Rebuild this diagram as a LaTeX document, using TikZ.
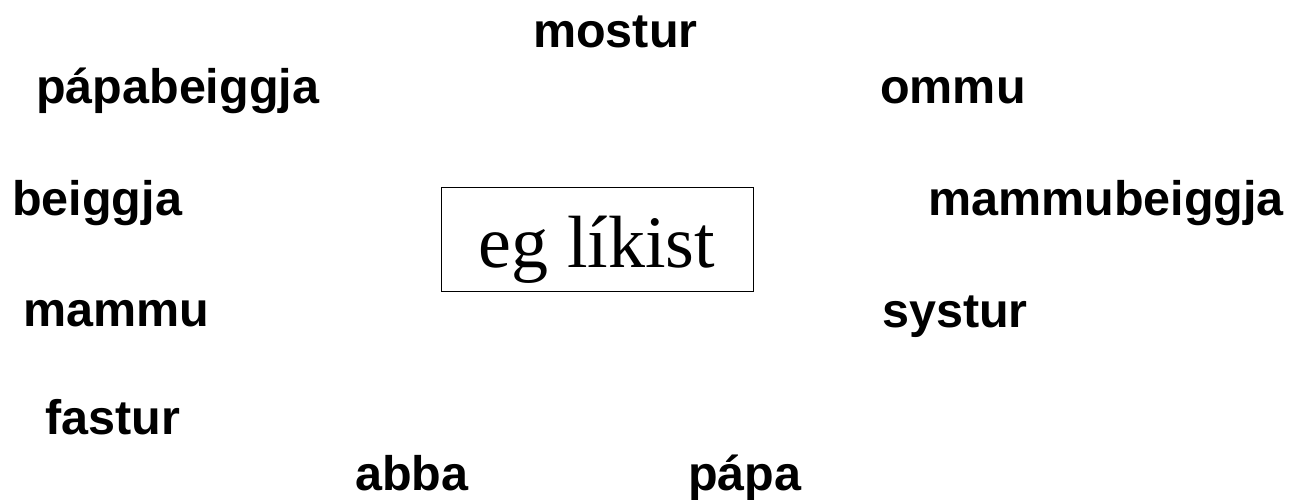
\documentclass[tikz,border=0pt]{standalone}
\usepackage{fontspec}
\setmainfont{Liberation Serif}
\setsansfont{Liberation Sans}
\usepackage{tikz}

\begin{document}
\begin{tikzpicture}[x=1pt,y=-1pt]
				
				\useasboundingbox (0,0) rectangle (1296,500);
				
				\tikzstyle{every node}=[inner sep=0pt, anchor=base west, font=\sffamily\bfseries\fontsize{48.5}{58}\selectfont]
				
				\node (mostur) at (533,48) {mostur};
				\node (papabeiggja) at (36,104) {pápabeiggja};
				\node (ommu) at (880,104) {ommu};
				\node (beiggja) at (12,215) {beiggja};
				\node (mammubeiggja) at (928,215) {mammubeiggja};
				\node (mammu) at (23,326) {mammu};
				\node (systur) at (882,327) {systur};
				\node (fastur) at (45,434) {fastur};
				\node (abba) at (355,490) {abba};
				\node (papa) at (688,490) {pápa};
				
				\tikzstyle{every node}=[]
				
				% the box in the middle
				\node[draw, thin, inner sep=0pt, minimum width=312pt, minimum height=104pt,
				text height=60pt, text depth=4pt, font=\fontsize{74}{82}\selectfont] (likist) at (597,239) {eg líkist};
			\end{tikzpicture}
\end{document}
